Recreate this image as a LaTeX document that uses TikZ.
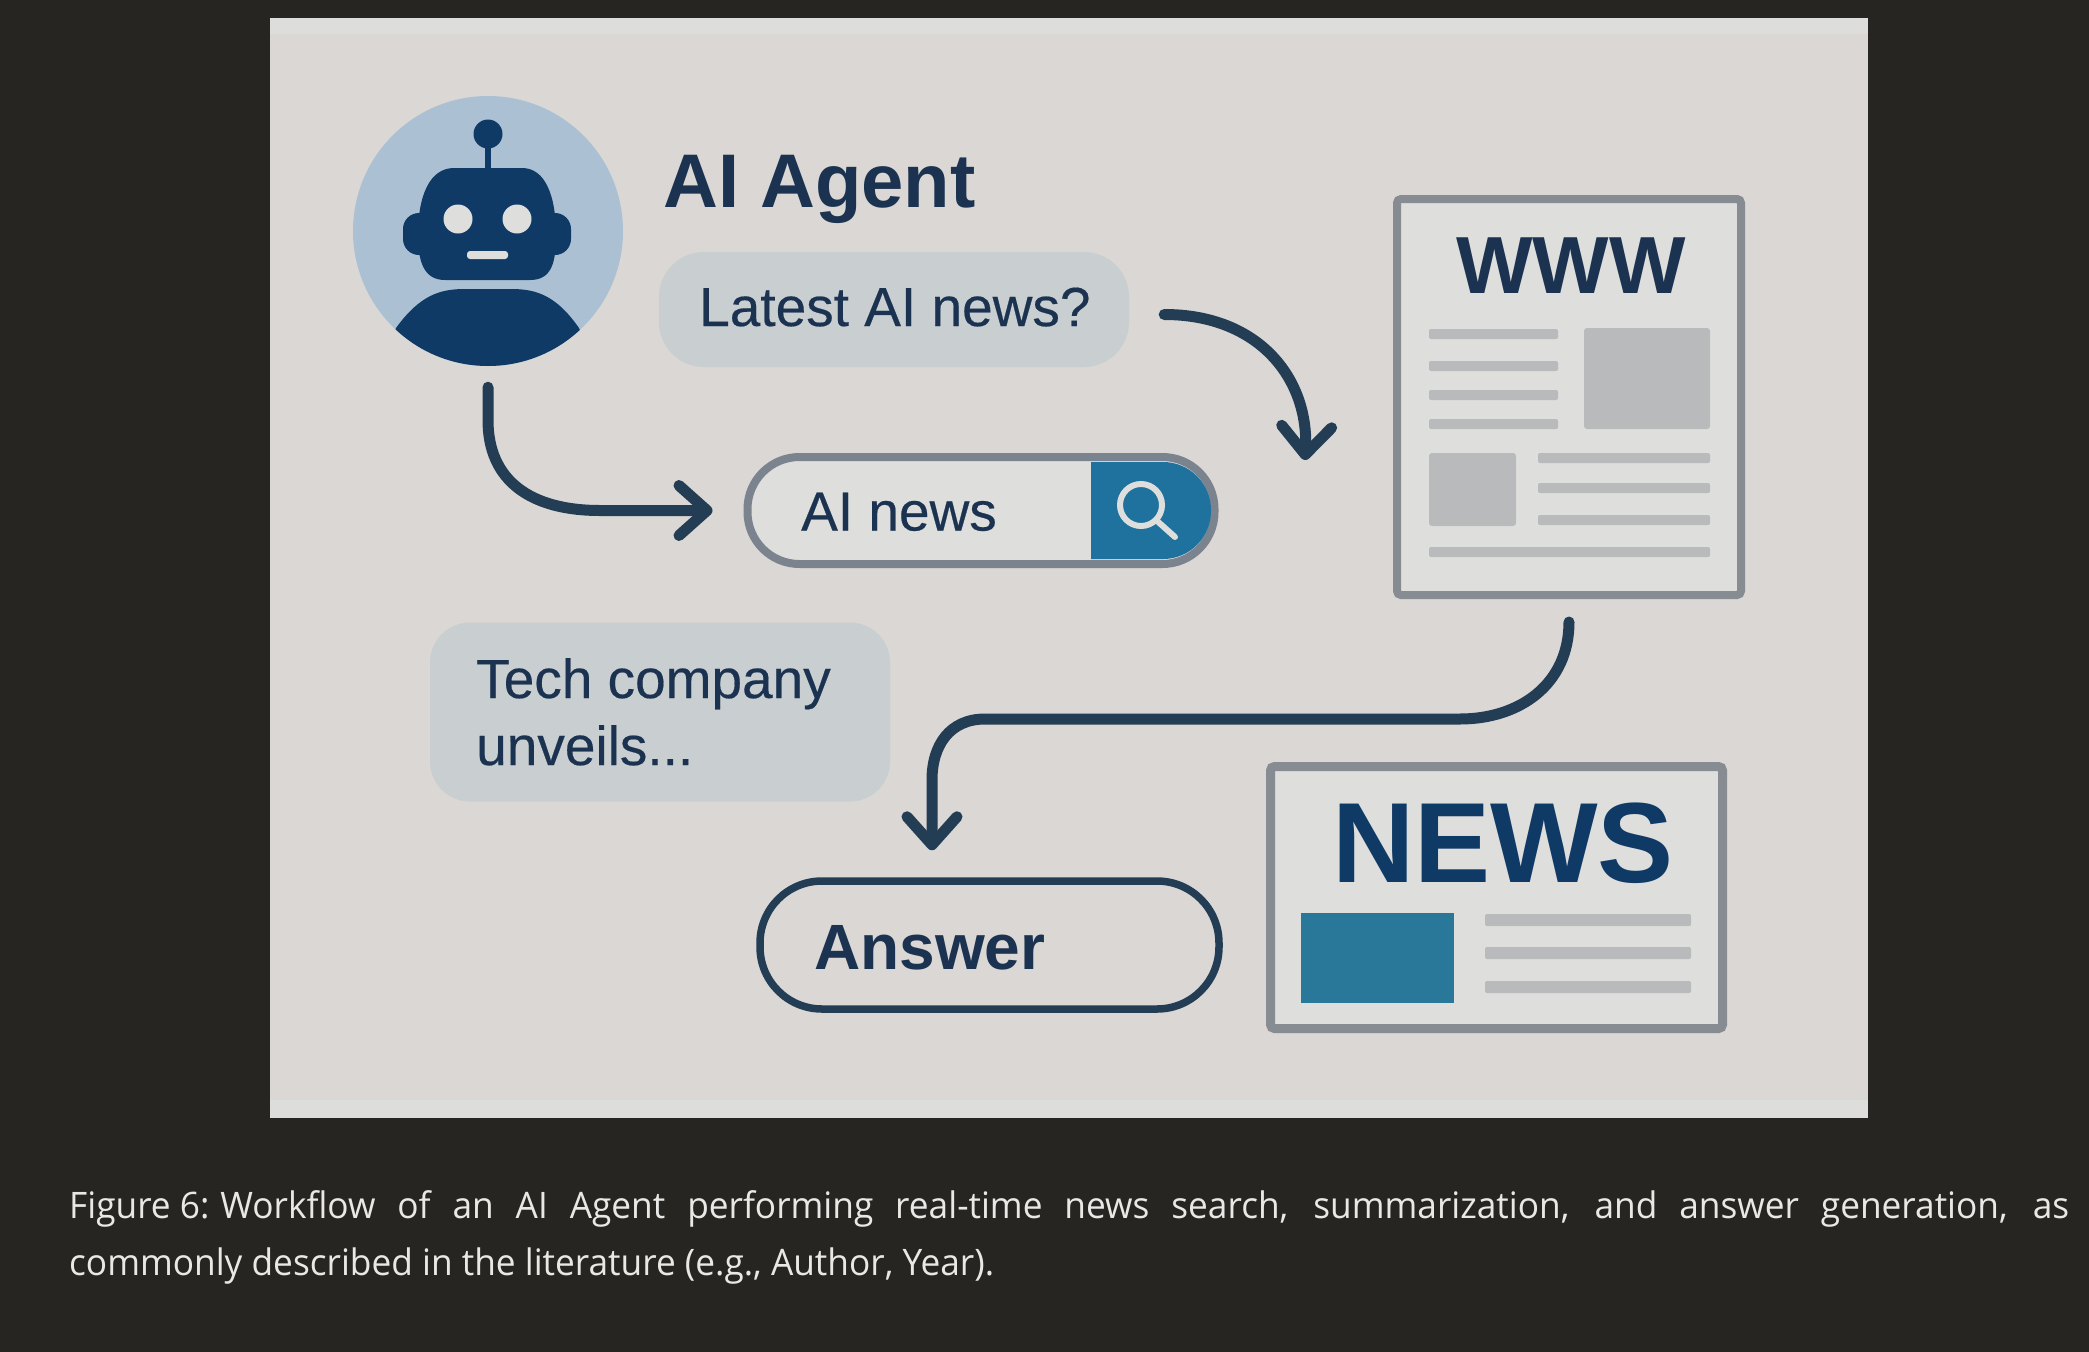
\documentclass[tikz,border=0pt]{standalone}
\usepackage{fontspec}
\usetikzlibrary{arrows.meta}
\setmainfont{Liberation Sans}
\newfontfamily\speechfont[FakeBold=0.35]{Liberation Sans}
\newfontfamily\captionfont[FakeStretch=0.966]{Open Sans}
\definecolor{pagedark}{HTML}{262522}
\definecolor{panelgrey}{HTML}{DAD7D4}
\definecolor{stripgrey}{HTML}{DDDEDC}
\definecolor{navy}{HTML}{0F3A66}
\definecolor{inkblue}{HTML}{1B3350}
\definecolor{flowblue}{HTML}{233D55}
\definecolor{skyblue}{HTML}{ABC1D3}
\definecolor{bubblegrey}{HTML}{C9CED1}
\definecolor{framegrey}{HTML}{878C92}
\definecolor{sheetgrey}{HTML}{DEDEDC}
\definecolor{barsgrey}{HTML}{B9BABB}
\definecolor{searchblue}{HTML}{1F729E}
\definecolor{tealblue}{HTML}{2A7899}
\definecolor{captionwhite}{HTML}{E8E8E6}

\begin{document}
\begin{tikzpicture}[x=1pt, y=-1pt, ->, >={Straight Barb[round, length=28pt, width=50pt]}]

    \tikzstyle{flow}=[flowblue, line width=11pt, line cap=round]
    \tikzstyle{bubble}=[fill=bubblegrey, inner sep=0pt, draw=none]
    \tikzstyle{sheet}=[draw=framegrey, fill=sheetgrey, line width=8pt, inner sep=0pt, rounded corners=4pt]
    \tikzstyle{textline}=[fill=barsgrey, rounded corners=2pt, draw=none]
    \tikzstyle{picbox}=[fill=barsgrey, rounded corners=3pt, draw=none]
    \tikzstyle{heading}=[inkblue, anchor=base west, inner sep=0pt, font=\fontsize{76}{76}\selectfont\bfseries]
    \tikzstyle{speech}=[inkblue, anchor=base west, inner sep=0pt, font=\fontsize{55}{67}\speechfont]

    \useasboundingbox (0,0) rectangle (2089,1352);
    \fill[pagedark] (0,0) rectangle (2089,1352);
    \fill[stripgrey] (270,18) rectangle (1868,1118);
    \fill[panelgrey] (270,34) rectangle (1868,1100);

    \node[circle, fill=skyblue, inner sep=0pt, minimum size=270pt] (agent) at (488,231) {};
    \begin{scope}
        \clip (488,231) circle (135);
        \fill[navy] (396,328) .. controls (420,295) and (440,289) .. (465,289) -- (511,289)
            .. controls (536,289) and (556,295) .. (579,328) -- (600,380) -- (380,380) -- cycle;
    \end{scope}
    \draw[-, navy, line width=6pt] (488,135) -- (488,175);
    \fill[navy] (488,134) circle (14.5);
    \fill[navy, rounded corners=16pt] (403,213) rectangle (571,255);
    \fill[navy] (454,168) -- (522,168) .. controls (545,168) and (556,195) .. (556,235)
        .. controls (556,262) and (552,280) .. (530,280) -- (445,280)
        .. controls (424,280) and (418,262) .. (418,235) .. controls (418,195) and (430,168) .. (454,168) -- cycle;
    \fill[sheetgrey] (458,219) circle (14.5);
    \fill[sheetgrey] (517,219) circle (14.5);
    \fill[sheetgrey, rounded corners=3pt] (467,251) rectangle (508,259);

    \node[heading] (title) at (663,207) {AI Agent};

    \node[bubble, rounded corners=45pt, minimum width=470pt, minimum height=115pt] (question) at (894,309.5) {};
    \node[speech] (questionlabel) at (699,326) {Latest AI news?};

    \node[draw=framegrey!90!navy, fill=sheetgrey, line width=8pt, inner sep=0pt, rounded corners=52pt,
        minimum width=467pt, minimum height=107pt] (searchbar) at (981,510.5) {};
    \begin{scope}
        \clip (1091,440) rectangle (1240,580);
        \fill[searchblue, rounded corners=48pt] (950,462) rectangle (1211,559);
    \end{scope}
    \node[speech] (searchlabel) at (801,530.5) {AI news};
    \draw[-, sheetgrey, line width=6pt] (1141,505) circle (21);
    \draw[-, sheetgrey, line width=6pt, line cap=round] (1156,520) -- (1175,537);

    \node[sheet, minimum width=344pt, minimum height=396pt] (webpage) at (1569,397) {};
    \node[inkblue, anchor=base, inner sep=0pt, font=\fontsize{81}{81}\selectfont\bfseries] (wwwlabel) at (1571,293) {WWW};
    \foreach \ypos in {334,366,395,424}
        \fill[textline] (1429,\ypos-5) rectangle (1558,\ypos+5);
    \fill[picbox] (1584,328) rectangle (1710,429);
    \fill[picbox] (1429,453) rectangle (1516,526);
    \foreach \ypos in {458,488,520}
        \fill[textline] (1538,\ypos-5) rectangle (1710,\ypos+5);
    \fill[textline] (1429,547) rectangle (1710,557);

    \node[bubble, rounded corners=40pt, minimum width=460pt, minimum height=179pt] (reply) at (660,712) {};
    \node[speech, align=left] (replylabel) at (476,765) {Tech company\\unveils...};

    \node[draw=flowblue, line width=7.5pt, inner sep=0pt, rounded corners=62pt,
        minimum width=459pt, minimum height=128pt] (answer) at (989.5,945) {};
    \node[heading, font=\fontsize{64}{64}\selectfont\bfseries] (answerlabel) at (814,969) {Answer};

    \node[sheet, line width=9pt, minimum width=452pt, minimum height=262pt] (news) at (1496.5,897.5) {};
    \node[navy, anchor=base, inner sep=0pt, font=\fontsize{114}{114}\selectfont\bfseries] (newslabel) at (1503,882) {NEWS};
    \fill[tealblue] (1301,913) rectangle (1454,1003);
    \foreach \ypos in {920,953,987}
        \fill[textline] (1485,\ypos-6) rectangle (1691,\ypos+6);

    \coordinate (questionend) at ([xshift=35pt, yshift=-5pt]question.east);
    \coordinate (webtip) at ([xshift=-88pt, yshift=-63pt]webpage.west);
    \coordinate (answertip) at ([xshift=-57.5pt, yshift=27pt]answer.north);

    \draw[flow] (questionend) .. controls +(96,0) and (1309,380) .. (webtip);
    \draw[flow, shorten <=21pt, shorten >=31pt] (agent.south) -- ++(0,54) .. controls +(0,60) and +(-70,0) .. (600,510.5) -- (searchbar.west);
    \draw[flow, shorten <=23pt] (webpage.south) .. controls +(0,85) and +(60,0) .. (1460,719) -- (985,719)
        .. controls +(-35,0) and +(0,-35) .. (932,780) -- (answertip);

    \node[captionwhite, anchor=base west, inner sep=0pt, text width=2000pt, align=justify,
        font=\fontsize{36.5}{57}\captionfont] (caption) at (69,1218)
        {\mbox{Figure 6:}\hspace{11pt}Workflow of an AI Agent performing real-time news search, summarization, and answer generation, as\linebreak commonly described in the literature (e.g., Author, Year).};
\end{tikzpicture}
\end{document}
